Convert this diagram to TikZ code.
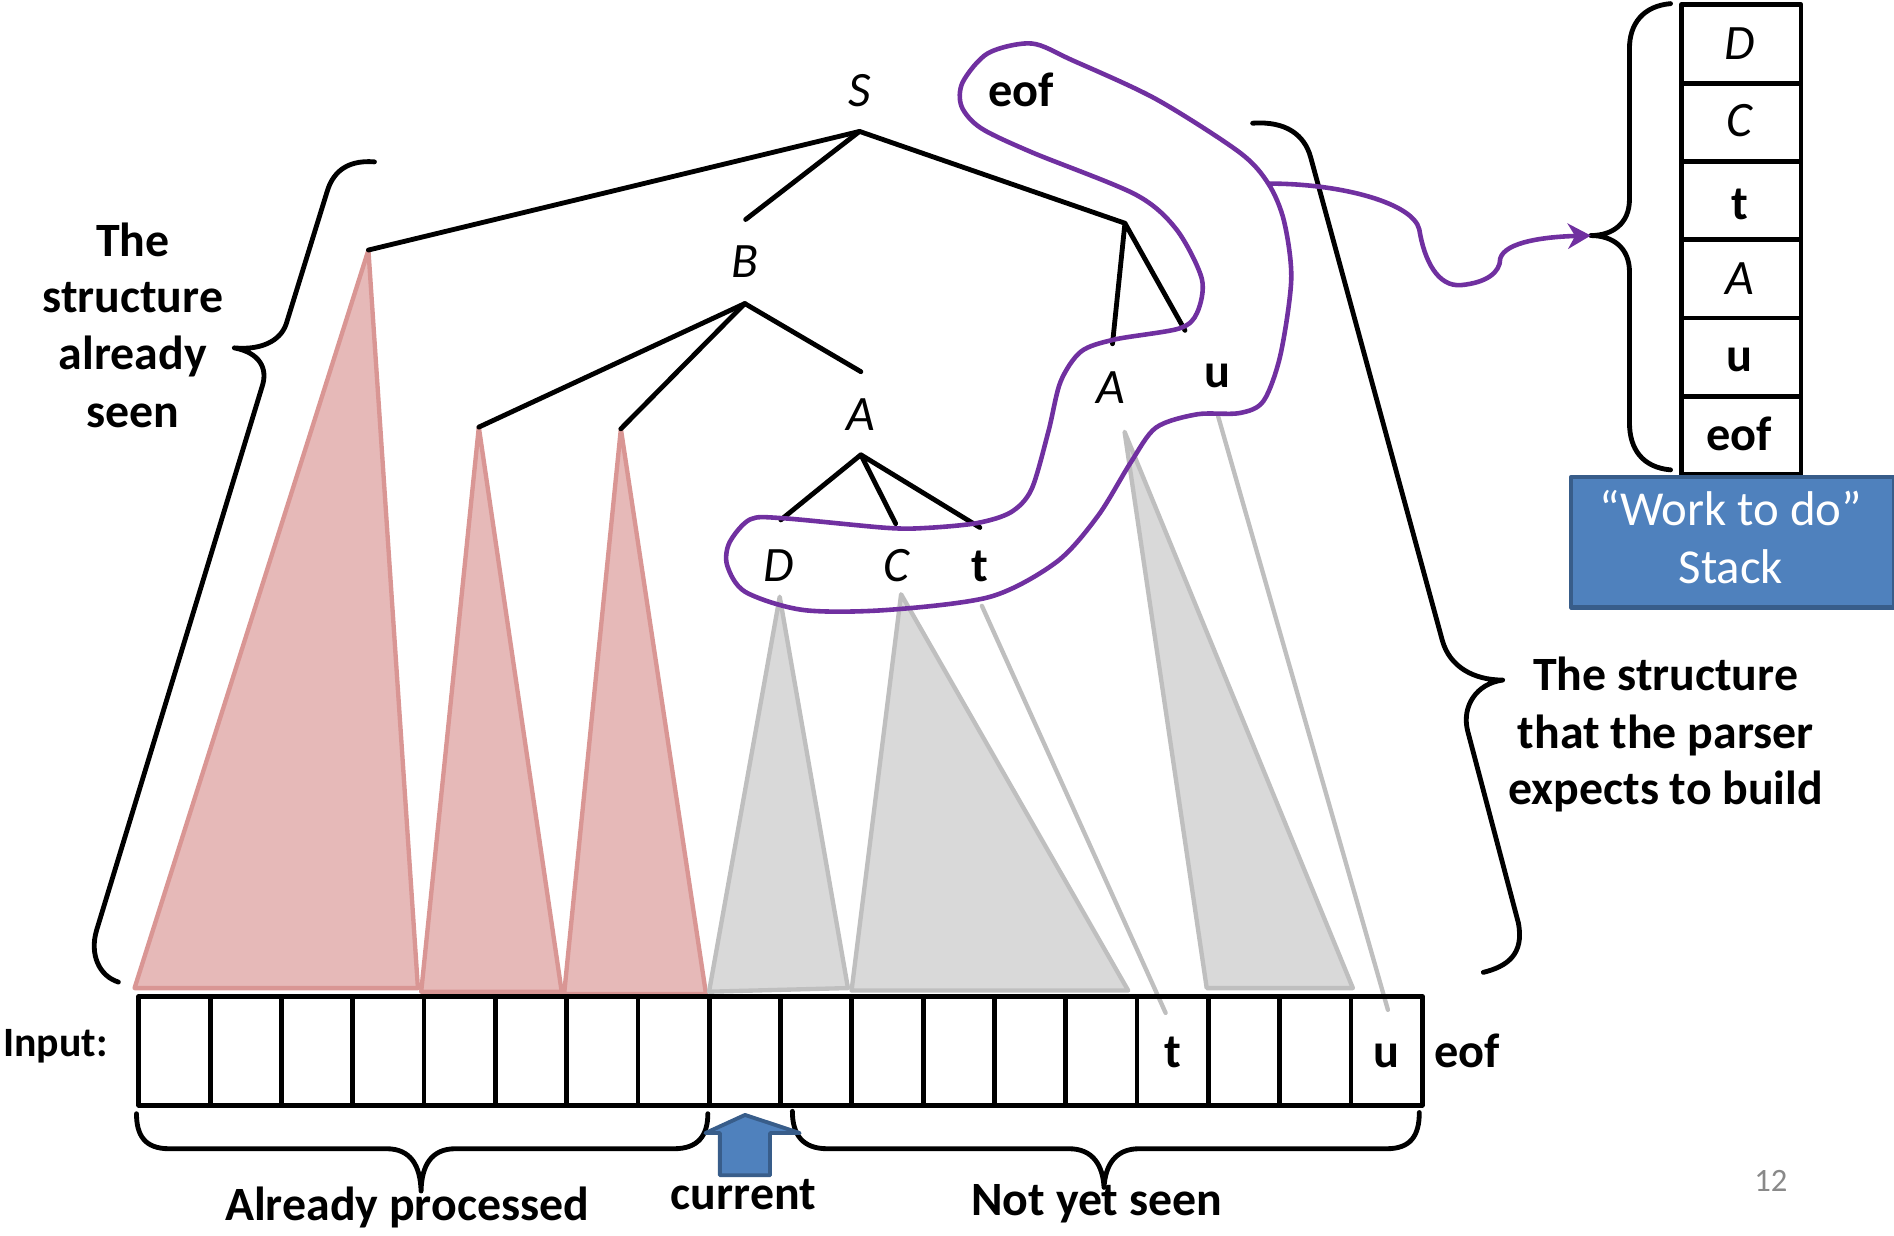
\documentclass[tikz,border=0pt]{standalone}
\usepackage{fontspec}
\setmainfont{Carlito}
\usetikzlibrary{arrows.meta}
\definecolor{pinkfill}{HTML}{E6B9B8}
\definecolor{pinkline}{HTML}{D99694}
\definecolor{greyfill}{HTML}{D9D9D9}
\definecolor{greyline}{HTML}{BFBFBF}
\definecolor{loopviolet}{HTML}{7030A0}
\definecolor{stackblue}{HTML}{4F81BD}
\definecolor{stackedge}{HTML}{385D8A}
\definecolor{pagenum}{HTML}{898989}
\begin{document}
\begin{tikzpicture}[x=0.5pt,y=-0.5pt,line join=round,line cap=round,
  treeedge/.style={line width=2pt},
  brace/.style={line width=2pt},
  seen/.style={fill=pinkfill,draw=pinkline,line width=1.8pt},
  ahead/.style={fill=greyfill,draw=greyline,line width=1.8pt},
  leafline/.style={draw=greyline,line width=1.8pt},
  sym/.style={font=\fontsize{20.5}{24}\selectfont\itshape,inner sep=0pt,anchor=base},
  term/.style={font=\fontsize{20}{24}\selectfont\bfseries,inner sep=0pt,anchor=base},
  note/.style={font=\fontsize{19.8}{24}\selectfont\bfseries,inner sep=0pt,anchor=base},
  cell/.style={draw,line width=2pt,minimum width=29.515pt,minimum height=45pt,inner sep=0pt,anchor=north west},
  stackcell/.style={draw,line width=2pt,minimum width=49.5pt,minimum height=32.4pt,inner sep=0pt,anchor=north west},
  loop/.style={draw=loopviolet,line width=1.9pt}]
\useasboundingbox (0,0) rectangle (1568,1023);

% subtrees already built (pink) and still expected (grey)
\draw[seen] (305,207) -- (346,818) -- (111.4,818) -- cycle;
\draw[seen] (396.4,353.6) -- (465,821) -- (348.7,821) -- cycle;
\draw[seen] (514,355) -- (584.5,823) -- (467,823) -- cycle;
\draw[ahead] (645.5,494) -- (702,818) -- (587,821) -- cycle;
\draw[ahead] (746,492) -- (934,820) -- (705,820) -- cycle;
\draw[ahead] (931,357.5) -- (1120,818) -- (999,818) -- cycle;
\coordinate (tfrom) at (812.9,501.6);
\coordinate (tto) at (965,838.6);
\coordinate (ufrom) at (1008.5,344.8);
\coordinate (uto) at (1149,836);
\draw[leafline] (tfrom) -- (tto);
\draw[leafline] (ufrom) -- (uto);

% input tape
\foreach \i in {1,...,18}
  \node[cell] (in\i) at ({112.9+(\i-1)*59.03},823) {};
\node[term] (tin) at (in15.center |- 0,883.8) {t};
\node[term] (uin) at (in18.center |- 0,883.8) {u};
\node[term] (eofin) at (1214.5,883.8) {eof};
\node[note,font=\fontsize{17.3}{20}\selectfont\bfseries] (inputlbl) at (46,875) {Input:};

% parse tree
\coordinate (Sj) at (711.6,108.8);
\coordinate (Lt) at (305,207);
\coordinate (Bstub) at (617.3,181.7);
\coordinate (Rj) at (931.3,184.8);
\coordinate (RA) at (921,284.6);
\coordinate (Ru) at (981,273.5);
\coordinate (Bj) at (616.6,251.3);
\coordinate (B1) at (396.4,353.6);
\coordinate (B2) at (514,355);
\coordinate (Bstub2) at (712.7,307.7);
\coordinate (Aj) at (712.7,376.5);
\coordinate (AD) at (646.4,430.4);
\coordinate (AC) at (741.5,433.5);
\coordinate (At) at (811.2,436.7);
\draw[treeedge] (Lt) -- (Sj) -- (Rj);
\draw[treeedge] (Sj) -- (Bstub);
\draw[treeedge] (RA) -- (Rj) -- (Ru);
\draw[treeedge] (B1) -- (Bj) -- (Bstub2);
\draw[treeedge] (Bj) -- (B2);
\draw[treeedge] (AD) -- (Aj) -- (At);
\draw[treeedge] (Aj) -- (AC);

\node[sym] (S) at (711.6,88.2) {S};
\node[term] (eoftop) at (845.5,88.2) {eof};
\node[sym] (B) at (616.6,230) {B};
\node[sym] (A) at (712.7,356.8) {A};
\node[sym] (A2) at (919.3,333.7) {A};
\node[term] (u) at (1007.8,321) {u};
\node[sym] (D) at (644.7,481) {D};
\node[sym] (C) at (742.5,481) {C};
\node[term] (t) at (811.2,481) {t};

% the pending symbols, circled
\draw[loop] plot[smooth cycle,tension=0.5] coordinates {
  (888,50) (854,36) (818,44) (797,68) (796,88) (812,106) (854,126)
  (940,161) (974,190) (995,231) (991,259) (976,272) (923,281) (895,291)
  (878,316) (868,357) (854,405) (837,424) (809,433) (768,437) (734,437)
  (648,429) (621,430) (604,449) (602,468) (617,490) (665,505) (734,505)
  (820,494) (875,465) (909,427) (936,383) (957,354) (991,343) (1026,342)
  (1046,332) (1060,294) (1069,231) (1063,183) (1050,152) (1026,126) (957,82)};
\coordinate (loopjoint) at (1051,152);

% braces
\draw[brace] (310,134) .. controls (285,132) and (275,145) .. (271,158) -- (237,268)
  .. controls (232,283) and (215,290) .. (194,288)
  .. controls (215,292) and (222,305) .. (217,320) -- (80,770)
  .. controls (74,790) and (82,808) .. (98,813);
\draw[brace] (1037,102) .. controls (1065,100) and (1080,112) .. (1085,130) -- (1194,530)
  .. controls (1200,552) and (1220,563) .. (1244,563)
  .. controls (1222,566) and (1210,585) .. (1215,605) -- (1257,764)
  .. controls (1262,790) and (1248,800) .. (1228,805);
\coordinate (stacktip) at (1317,195);
\draw[brace] (1383,3) .. controls (1360,5) and (1349,20) .. (1349,40) -- (1349,165)
  .. controls (1349,185) and (1335,195) .. (stacktip)
  .. controls (1335,195) and (1349,205) .. (1349,225) -- (1349,350)
  .. controls (1349,372) and (1360,387) .. (1383,389);
\draw[brace] (113,922) .. controls (113,940) and (120,951) .. (140,951) -- (320,951)
  .. controls (340,951) and (348,965) .. (348.6,986)
  .. controls (349,965) and (357,951) .. (377,951) -- (558,951)
  .. controls (578,951) and (586,940) .. (586,922);
\draw[brace] (656,920) .. controls (656,940) and (665,951) .. (685,951) -- (885,951)
  .. controls (905,951) and (913,965) .. (914,983)
  .. controls (915,965) and (923,951) .. (943,951) -- (1148,951)
  .. controls (1168,951) and (1175,940) .. (1175,921);

% link from the circled symbols to the stack
\draw[loop,-{Stealth[length=9.5pt,width=10.5pt,inset=3pt]}] (loopjoint)
  .. controls (1110,152) and (1170,168) .. (1175,190)
  .. controls (1179,215) and (1190,238) .. (1210,236)
  .. controls (1230,234) and (1242,226) .. (1242,214)
  .. controls (1246,200) and (1280,196) .. (stacktip);

% work-to-do stack
\foreach \k in {1,...,6}
  \node[stackcell] (st\k) at (1390,{2+(\k-1)*64.8}) {};
\node[sym] at (1440,49) {D};
\node[sym] at (1440,112.9) {C};
\node[term] at (1440,181.5) {t};
\node[sym] at (1440,243.8) {A};
\node[term] at (1440,307.6) {u};
\node[term] at (1440,373) {eof};
\node[draw=stackedge,fill=stackblue,line width=1.8pt,minimum width=133.5pt,minimum height=54pt,anchor=north west,inner sep=0pt] (stackbox) at (1299,393) {};
\node[font=\fontsize{20.2}{24}\selectfont,text=white,inner sep=0pt,anchor=base] at (1433,435) {“Work to do”};
\node[font=\fontsize{20.2}{24}\selectfont,text=white,inner sep=0pt,anchor=base] at (1433,483) {Stack};

% captions
\node[note] at (110,212) {The};
\node[note] at (110,259) {structure};
\node[note] at (110,306) {already};
\node[note] at (110,354) {seen};
\node[note] at (1379,572) {The structure};
\node[note] at (1379,620) {that the parser};
\node[note] at (1379,666) {expects to build};
\node[note] at (337,1010) {Already processed};
\node[note] at (615.5,1001.5) {current};
\node[note] at (908,1006) {Not yet seen};
\node[font=\fontsize{13.5}{16}\selectfont,text=pagenum,inner sep=0pt,anchor=base] at (1466,986) {12};

% current position marker
\draw[fill=stackblue,draw=stackedge,line width=1.6pt]
  (616.8,923) -- (662,938) -- (637.5,938) -- (637.5,973) -- (596,973) -- (596,938) -- (584,938) -- cycle;
\end{tikzpicture}
\end{document}
